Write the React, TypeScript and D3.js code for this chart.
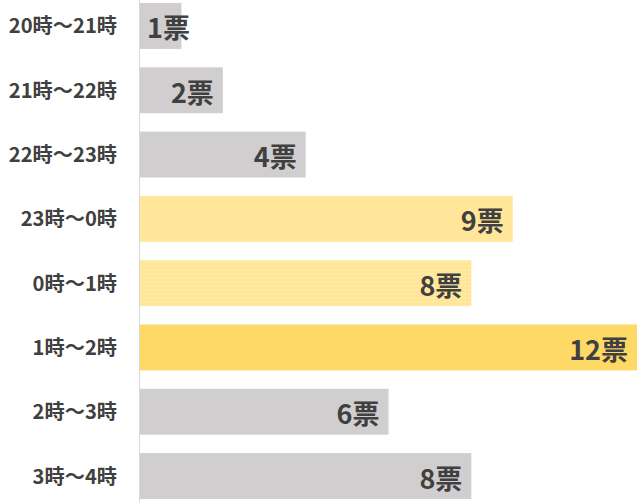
import React from "react"
import * as d3 from "d3"

const categories = ["20時～21時", "21時～22時", "22時～23時", "23時～0時", "0時～1時", "1時～2時", "2時～3時", "3時～4時"]
const votes = [1, 2, 4, 9, 8, 12, 6, 8]
const fills = ["gray", "gray", "gray", "light", "dotted", "strong", "gray", "gray"]

const width = 640
const height = 503
const margin = {top: 3, right: 3, bottom: 4, left: 140}

const colorOf: Record<string, string> = {
    gray: "#d0cece",
    light: "#ffe699",
    dotted: "url(#dots)",
    strong: "#ffd966",
}

const App = () => {
    const xScale = d3.scaleLinear()
        .domain([0, 12])
        .range([margin.left, width - margin.right])
    const yScale = d3.scaleBand()
        .domain(categories)
        .range([margin.top, height - margin.bottom])
        .paddingInner(0.286)
        .paddingOuter(0)

    const font = "'Noto Sans CJK JP', 'Noto Sans', sans-serif"

    return (
        <svg width={width} height={height} style={{position: "absolute", left: 0, top: 0}}>
            <defs>
                <pattern id="dots" width="4" height="4" patternUnits="userSpaceOnUse">
                    <rect width="4" height="4" fill="#ffe699"/>
                    <rect x="1" y="1" width="1" height="1" fill="#fff4d2"/>
                </pattern>
            </defs>
            <rect width={width} height={height} fill="#ffffff"/>
            {categories.map((c, i) => {
                const y = yScale(c) as number
                const bw = yScale.bandwidth()
                const xEnd = xScale(votes[i])
                return (
                    <g key={c}>
                        <rect x={xScale(0)} y={y} width={xEnd - xScale(0)} height={bw} fill={colorOf[fills[i]]}/>
                        <text x={117} y={y + bw / 2 - 1} textAnchor="end" dominantBaseline="central"
                              fontFamily={font} fontWeight="bold" fontSize={20.2} fill="#404040">{c}</text>
                        <text x={Math.max(xEnd - 9, 190)} y={y + bw / 2 + 1} textAnchor="end" dominantBaseline="central"
                              fontFamily={font} fontWeight="bold" fontSize={27} fill="#404040">{votes[i]}票</text>
                    </g>
                )
            })}
            <line x1={margin.left - 0.5} x2={margin.left - 0.5} y1={0} y2={height} stroke="#d9d9d9" strokeWidth={1}/>
        </svg>
    )
}

export default App
